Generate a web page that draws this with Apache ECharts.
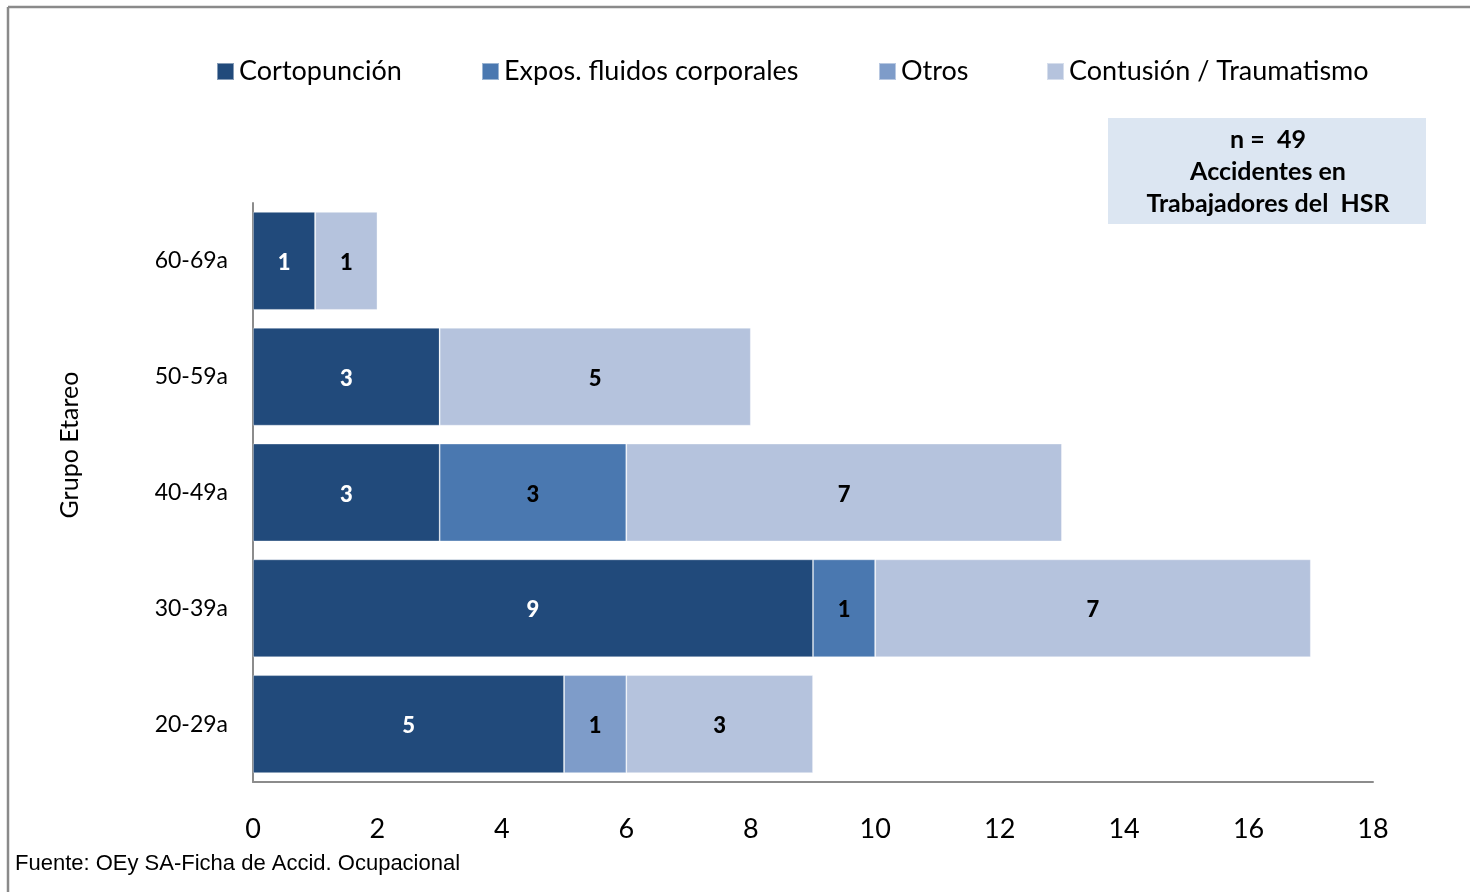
<!DOCTYPE html>
<html>
<head>
<meta charset="utf-8">
<script src="https://cdn.jsdelivr.net/npm/echarts@6/dist/echarts.min.js"></script>
<style>
  html, body { margin: 0; padding: 0; background: #fff; }
  #chart { width: 1470px; height: 892px; }
</style>
</head>
<body>
<div id="chart"></div>
<script>
// Age groups, bottom to top
const categories = ['20-29a', '30-39a', '40-49a', '50-59a', '60-69a'];
const seriesNames = ['Cortopunción', 'Expos. fluidos corporales', 'Otros', 'Contusión / Traumatismo'];
const cortopuncion = [5, 9, 3, 3, 1];
const fluidos = [0, 1, 3, 0, 0];
const otros = [1, 0, 0, 0, 0];
const contusion = [3, 7, 7, 5, 1];
const xTicks = [0, 2, 4, 6, 8, 10, 12, 14, 16, 18];
const axisTitle = 'Grupo Etareo';
const boxLines = ['n =  49', 'Accidentes en', 'Trabajadores del  HSR'];
const sourceNote = 'Fuente: OEy SA-Ficha de Accid. Ocupacional';

const colors = ['#214A7B', '#4A78B0', '#7E9CC9', '#B5C3DD'];
const labelColors = ['#ffffff', '#000000', '#000000', '#000000'];
const values = [cortopuncion, fluidos, otros, contusion];
const font = 'Lato, "Open Sans", sans-serif';

const chart = echarts.init(document.getElementById('chart'));

const series = values.map((vals, i) => ({
  name: seriesNames[i],
  type: 'bar',
  stack: 'total',
  barCategoryGap: '15.5%',
  data: vals,
  itemStyle: { color: colors[i], borderColor: 'rgba(255,255,255,0.45)', borderWidth: 0.8 },
  label: {
    show: true,
    position: 'inside',
    offset: [0, 2],
    color: labelColors[i],
    fontFamily: font,
    fontWeight: 900,
    fontSize: 22,
    formatter: p => (p.value ? String(p.value) : '')
  },
  emphasis: { disabled: true }
}));

const legendLefts = [211, 476, 873, 1041];
const legends = seriesNames.map((n, i) => ({
  data: [n],
  left: legendLefts[i],
  top: 53,
  itemWidth: 17,
  itemHeight: 17,
  itemGap: 8,
  icon: 'rect',
  textStyle: { fontFamily: font, fontSize: 27, color: '#000' },
  selectedMode: false
}));

chart.setOption({
  animation: false,
  color: colors,
  legend: legends,
  grid: { left: 253, right: 97, top: 203, bottom: 110, containLabel: false },
  xAxis: {
    type: 'value',
    min: 0,
    max: 18,
    interval: 2,
    axisLine: { show: true, lineStyle: { color: '#8c8c8c', width: 2 } },
    axisTick: { show: false },
    splitLine: { show: false },
    axisLabel: {
      margin: 34,
      fontFamily: font,
      fontSize: 27,
      color: '#000',
      formatter: v => (xTicks.includes(v) ? String(v) : '')
    }
  },
  yAxis: {
    type: 'category',
    data: categories,
    axisLine: { show: true, lineStyle: { color: '#8c8c8c', width: 2 } },
    axisTick: { show: false },
    axisLabel: { margin: 25, fontFamily: font, fontSize: 23, color: '#000' }
  },
  series: series,
  graphic: [
    // outer frame (top and left edges)
    { type: 'line', shape: { x1: 8, y1: 7, x2: 1470, y2: 7 }, style: { stroke: '#8a8a8a', lineWidth: 2.5 } },
    { type: 'line', shape: { x1: 8, y1: 7, x2: 8, y2: 892 }, style: { stroke: '#8a8a8a', lineWidth: 2.5 } },
    // vertical axis title
    {
      type: 'text',
      x: 70,
      y: 445,
      rotation: Math.PI / 2,
      style: {
        text: axisTitle,
        fill: '#000',
        font: '25px ' + font,
        textAlign: 'center',
        textVerticalAlign: 'middle'
      }
    },
    // info box
    { type: 'rect', shape: { x: 1108, y: 118, width: 318, height: 106 }, style: { fill: '#DCE6F2' } },
    ...boxLines.map((t, i) => ({
      type: 'text',
      x: 1268,
      y: 140 + i * 32,
      style: {
        text: t,
        fill: '#000',
        font: 'bold 25px ' + font,
        textAlign: 'center',
        textVerticalAlign: 'middle'
      }
    })),
    // source note
    {
      type: 'text',
      left: 15,
      top: 853,
      style: { text: sourceNote, fill: '#000', font: '22px "Liberation Sans", Arial, sans-serif' }
    }
  ]
});
</script>
</body>
</html>
